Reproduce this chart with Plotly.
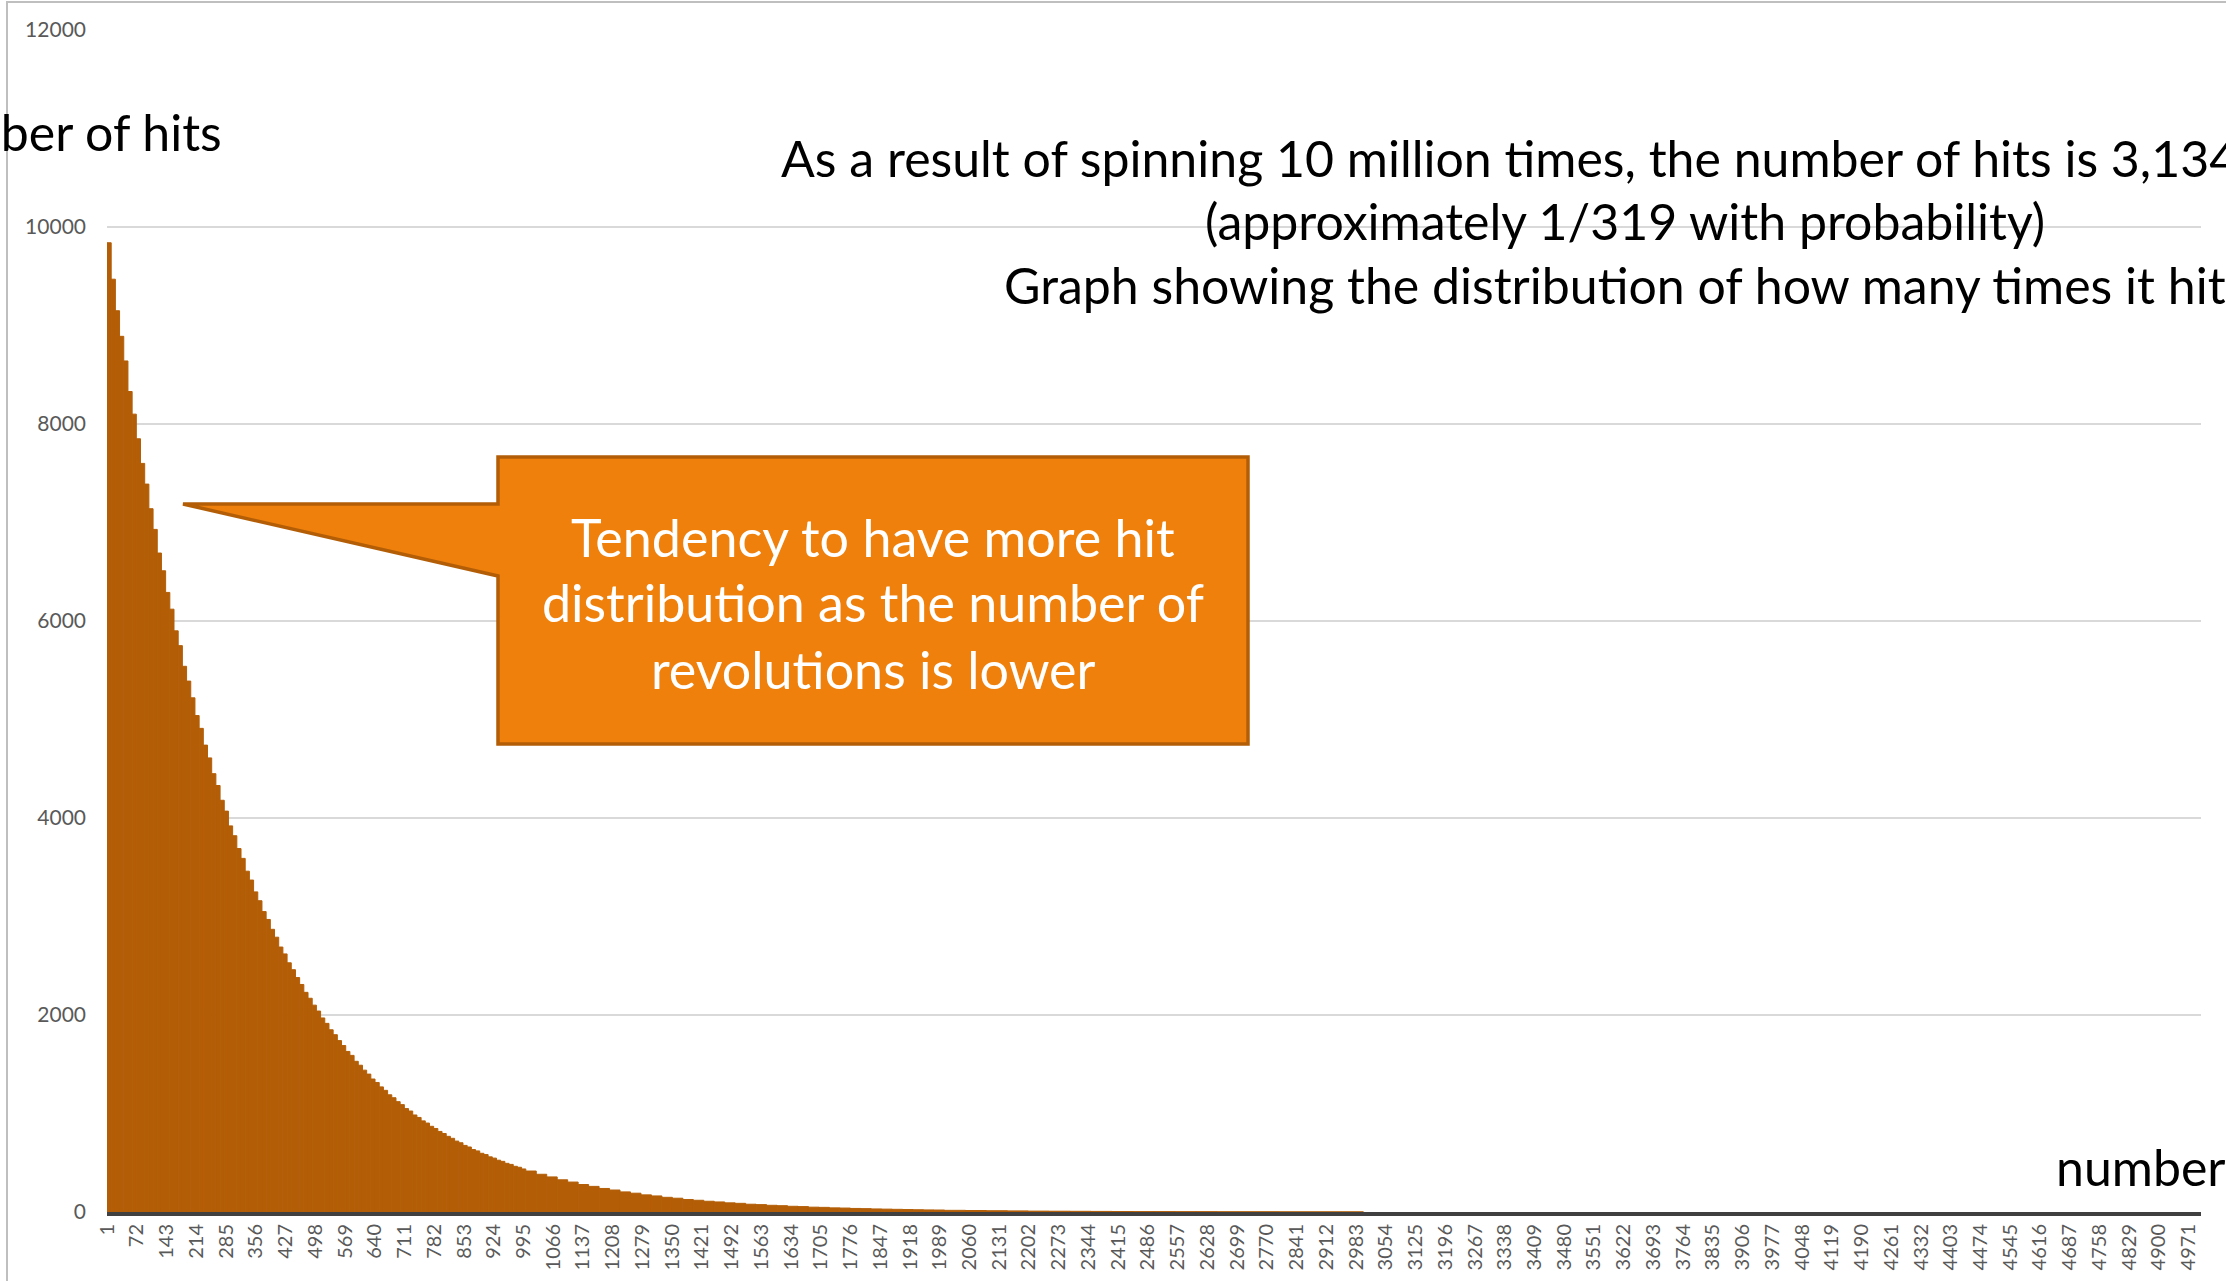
import plotly.graph_objects as go

# ---------------- data ----------------
# bins of 10 revolutions, starting at 1, 11, 21, ... 991
cats_10 = list(range(1, 1001, 10))
hits_10 = [
    9840, 9470, 9150, 8890, 8640, 8330, 8100, 7850, 7600, 7390,
    7140, 6930, 6690, 6510, 6290, 6120, 5900, 5750, 5540, 5390,
    5220, 5040, 4910, 4740, 4610, 4450, 4330, 4180, 4070, 3920,
    3820, 3690, 3590, 3460, 3370, 3250, 3160, 3050, 2970, 2870,
    2790, 2690, 2620, 2530, 2460, 2380, 2310, 2230, 2170, 2100,
    2040, 1970, 1915, 1850, 1800, 1740, 1690, 1630, 1590, 1530,
    1490, 1440, 1400, 1350, 1315, 1270, 1235, 1190, 1160, 1120,
    1090, 1050, 1025, 985, 960, 925, 903, 870, 848, 818,
    797, 768, 748, 720, 703, 676, 660, 634, 620, 596,
    583, 560, 547, 526, 514, 494, 483, 464, 454, 437,
]
# bins of 25 revolutions, starting at 1001, 1026, ... 1976
cats_25 = list(range(1001, 2001, 25))
hits_25 = [
    416, 383, 356, 327, 304, 279, 260, 239, 223, 204,
    191, 174, 163, 149, 140, 127, 119, 109, 102, 93,
    88, 79, 75, 68, 64, 58, 55, 49, 47, 42,
    40, 36, 34, 31, 29, 27, 25, 23, 21, 20,
]
# bins of 50 revolutions, starting at 2001, 2051, ... 2951
cats_50 = list(range(2001, 3001, 50))
hits_50 = [17, 15, 13, 11, 9, 8, 7, 6, 5, 4, 4, 3, 3, 2, 2, 2, 1, 1, 1, 1]

x_ticks = [1, 72, 143, 214, 285, 356, 427, 498, 569, 640, 711, 782, 853, 924, 995,
           1066, 1137, 1208, 1279, 1350, 1421, 1492, 1563, 1634, 1705, 1776, 1847,
           1918, 1989, 2060, 2131, 2202, 2273, 2344, 2415, 2486, 2557, 2628, 2699,
           2770, 2841, 2912, 2983, 3054, 3125, 3196, 3267, 3338, 3409, 3480, 3551,
           3622, 3693, 3764, 3835, 3906, 3977, 4048, 4119, 4190, 4261, 4332, 4403,
           4474, 4545, 4616, 4687, 4758, 4829, 4900, 4971]
y_ticks = [0, 2000, 4000, 6000, 8000, 10000, 12000]
n_categories = 5000

title_lines = [
    "As a result of spinning 10 million times, the number of hits is 3,134,523 times",
    "(approximately 1/319 with probability)",
    "Graph showing the distribution of how many times it hits",
]
callout_lines = [
    "Tendency to have more hit",
    "distribution as the number of",
    "revolutions is lower",
]
y_title = "Number of hits"
x_title = "number of revolutions"

# ---------------- layout geometry (pixels) ----------------
W, H = 2226, 1281
ML, MR, MT, MB = 107, 25, 30, 69
PW, PH = W - ML - MR, H - MT - MB


def px(x):
    return (x - ML) / PW


def py(y):
    return (H - MB - y) / PH


BAR = "#b35e07"
ORANGE = "#f0800c"
FONT = "Lato"

cats = cats_10 + cats_25 + cats_50
vals = hits_10 + hits_25 + hits_50
widths = [10] * len(cats_10) + [25] * len(cats_25) + [50] * len(cats_50)

fig = go.Figure()
fig.add_trace(go.Bar(
    x=cats, y=vals, width=widths, offset=-0.5,
    marker=dict(color=BAR, line=dict(width=1, color=BAR)),
    hoverinfo="x+y",
))

# callout shape
pts = [(183, 504), (498, 504), (498, 457), (1248, 457), (1248, 744), (498, 744), (498, 576)]
path = "M " + " L ".join(f"{px(a):.5f},{py(b):.5f}" for a, b in pts) + " Z"

shapes = [
    dict(type="path", xref="paper", yref="paper", path=path,
         fillcolor=ORANGE, line=dict(color=BAR, width=3.5), layer="above"),
    dict(type="line", xref="paper", yref="paper", x0=px(7), x1=px(7), y0=py(1), y1=py(1281),
         line=dict(color="#bfbfbf", width=2)),
    dict(type="line", xref="paper", yref="paper", x0=px(7), x1=px(2226), y0=py(2), y1=py(2),
         line=dict(color="#bfbfbf", width=2)),
]

annotations = []
for txt, yy in zip(title_lines, [158, 221, 285]):
    annotations.append(dict(xref="paper", yref="paper", x=px(1625), y=py(yy), text=txt,
                            showarrow=False, xanchor="center", yanchor="middle",
                            font=dict(family=FONT, size=50, color="#000000")))
for txt, yy in zip(callout_lines, [537, 602, 669]):
    annotations.append(dict(xref="paper", yref="paper", x=px(873), y=py(yy), text=txt,
                            showarrow=False, xanchor="center", yanchor="middle",
                            font=dict(family=FONT, size=52, color="#ffffff")))
annotations.append(dict(xref="paper", yref="paper", x=px(224), y=py(132), text=y_title,
                        showarrow=False, xanchor="right", yanchor="middle",
                        font=dict(family=FONT, size=50, color="#000000")))
annotations.append(dict(xref="paper", yref="paper", x=px(2054), y=py(1167), text=x_title,
                        showarrow=False, xanchor="left", yanchor="middle",
                        font=dict(family=FONT, size=50, color="#000000")))

fig.update_layout(
    width=W, height=H,
    margin=dict(l=ML, r=MR, t=MT, b=MB, pad=0, autoexpand=False),
    paper_bgcolor="white", plot_bgcolor="white",
    showlegend=False,
    shapes=shapes, annotations=annotations,
    font=dict(family=FONT),
    xaxis=dict(type="linear", range=[0.5, n_categories + 0.5], automargin=False,
               tickmode="array", tickvals=x_ticks, ticktext=[str(t) for t in x_ticks],
               tickangle=-90, tickfont=dict(size=20, color="#595959", family=FONT),
               showgrid=False, zeroline=False, showline=True,
               linecolor="#404040", linewidth=4, ticks="", ticklen=0, ticklabelstandoff=0),
    yaxis=dict(range=[0, 12000], tickmode="array", tickvals=y_ticks, automargin=False,
               ticktext=[str(t) for t in y_ticks],
               tickfont=dict(size=21, color="#595959", family=FONT),
               showgrid=True, gridcolor="#d9d9d9", gridwidth=1.5,
               zeroline=False, showline=False, ticks="", ticklabelstandoff=20),
)

fig.write_html("out.html")
